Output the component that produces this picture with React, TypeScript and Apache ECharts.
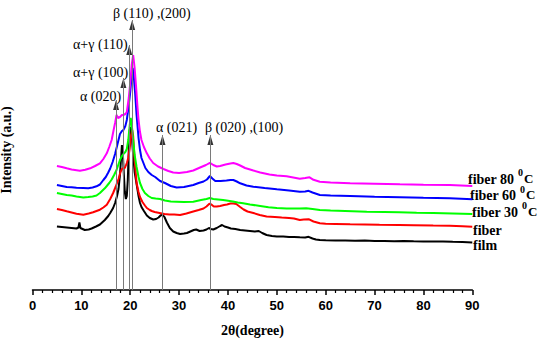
import React, { useEffect, useRef } from "react";
import * as echarts from "echarts";

// [2θ (degree), intensity (a.u.)]
const film: [number, number][] = [
  [5.0, 63.5], [6.0, 63], [7.0, 62.5], [8.0, 62], [9.0, 61.5], [9.4, 62.5], [9.6, 67.5], [9.8, 62],
  [10.7, 60], [11.5, 60.5], [12.1, 61.5], [13.0, 63.5], [13.8, 65.5], [14.8, 70], [15.5, 74], [15.9, 77],
  [16.5, 82], [16.9, 87], [17.3, 94], [17.6, 101], [17.9, 115], [18.1, 130], [18.3, 145], [18.5, 135],
  [18.7, 115], [18.9, 98], [19.1, 91], [19.3, 94], [19.5, 110], [19.7, 140], [19.9, 160], [20.1, 163],
  [20.3, 155], [20.6, 135], [20.9, 118], [21.3, 106], [21.7, 94], [22.0, 87], [22.3, 83], [22.8, 79],
  [23.4, 74.5], [24.0, 72], [24.7, 70.5], [25.3, 71], [25.8, 72.5], [26.2, 74.5], [26.6, 75.5], [27.0, 73],
  [27.5, 67.5], [28.1, 62], [28.8, 58.5], [29.5, 57], [30.2, 56], [31.0, 56.5], [31.6, 57], [32.3, 58.5],
  [33.0, 60], [33.5, 60.5], [34.2, 59], [35.0, 59.5], [35.6, 60.5], [36.1, 62], [36.5, 61], [37.0, 60.5],
  [37.7, 62], [38.4, 64], [38.8, 65], [39.3, 63.5], [40.0, 62.5], [40.6, 61.5], [41.5, 61], [42.5, 60],
  [43.5, 59.5], [44.5, 59], [45.5, 58.5], [46.3, 59], [47.0, 57], [47.9, 55], [49.0, 54], [50.0, 53.5],
  [51.3, 53.5], [52.5, 53], [53.5, 53], [54.7, 52.7], [55.8, 52.5], [56.5, 53.2], [57.3, 51.5], [58.0, 50.5],
  [58.8, 50], [60.0, 49.7], [62.0, 49.5], [64.0, 49.5], [66.0, 49.2], [68.0, 49.5], [70.0, 49], [72.0, 49],
  [74.0, 48.8], [76.0, 49], [78.0, 48.7], [80.0, 48.5], [82.0, 48.5], [84.0, 48.5], [86.0, 48.2], [88.0, 48],
  [90.0, 47.5],
];

const fiber: [number, number][] = [
  [5.0, 81], [6.0, 80], [7.0, 78.7], [8.0, 77.5], [9.0, 76.3], [10.4, 75.3], [11.5, 76.5], [12.4, 77.7],
  [13.8, 80.3], [14.5, 82.5], [15.2, 85.3], [15.9, 91], [16.5, 97], [17.0, 103], [17.6, 111], [18.0, 118],
  [18.3, 121], [18.6, 122], [18.9, 122], [19.3, 127], [19.6, 132], [19.9, 142], [20.2, 155], [20.4, 160],
  [20.6, 154], [20.9, 130], [21.3, 107], [21.7, 98], [22.0, 93], [22.5, 88], [23.0, 84.5], [23.4, 82],
  [24.0, 80], [24.4, 79], [25.0, 78], [26.0, 77], [27.0, 76], [28.0, 75.5], [29.0, 75.5], [30.2, 75],
  [31.5, 76.5], [32.9, 78.5], [34.0, 80], [35.0, 81.5], [35.6, 83.5], [36.2, 86.2], [36.6, 85.5], [37.1, 83.5],
  [37.7, 83.5], [38.4, 84], [39.2, 85], [39.8, 85.5], [40.5, 86.5], [41.1, 86.5], [41.7, 86], [42.5, 83],
  [43.2, 80.5], [44.0, 78.5], [45.2, 77], [46.5, 75], [47.9, 73.5], [49.6, 73], [51.0, 72.5], [52.5, 72],
  [53.5, 71.5], [54.7, 70], [55.5, 70.5], [56.5, 70.8], [57.5, 68.5], [58.8, 66.7], [60.0, 66.2], [62.0, 66],
  [65.0, 65.7], [68.0, 65.5], [71.0, 65.2], [75.0, 65], [78.0, 64.8], [82.0, 64.5], [85.4, 64.3], [88.0, 63.8],
  [90.0, 63.3],
];

const fiber30: [number, number][] = [
  [5.0, 97], [6.0, 96], [7.0, 95], [8.0, 94.5], [9.0, 93.5], [10.4, 92.5], [11.4, 93], [12.3, 93.5],
  [13.1, 94.5], [13.8, 97], [14.8, 101.7], [15.2, 104], [15.7, 107], [16.2, 110.5], [16.7, 115], [17.2, 120],
  [17.9, 130], [18.3, 134], [18.6, 136], [19.0, 138], [19.3, 141], [19.6, 150], [19.9, 165], [20.1, 172],
  [20.3, 166], [20.6, 150], [20.9, 135], [21.3, 123], [21.7, 113], [22.0, 107], [22.5, 101], [23.0, 97],
  [23.7, 94], [24.4, 92], [25.2, 91.5], [26.1, 91], [27.1, 89.5], [28.3, 88.5], [29.5, 88.3], [31.0, 88],
  [32.9, 88.3], [34.5, 90], [35.6, 91], [36.3, 92], [37.0, 91], [38.0, 90.5], [39.0, 90], [39.7, 89.5],
  [41.0, 88.5], [42.0, 87.5], [43.1, 86.7], [44.5, 85.5], [46.6, 84], [48.3, 82.7], [50.0, 82], [52.0, 81.5],
  [54.7, 81.5], [56.0, 81.7], [57.3, 81], [58.8, 80], [61.0, 79.5], [64.0, 79], [68.4, 78.3], [72.0, 78],
  [75.0, 77.7], [78.6, 77.3], [82.0, 77], [86.0, 76.5], [90.0, 76],
];

const fiber60: [number, number][] = [
  [5.0, 105], [6.0, 104], [7.0, 103], [8.0, 102.7], [9.0, 102.3], [10.4, 102], [11.4, 101.7], [12.3, 102.5],
  [13.1, 103.7], [13.8, 105.5], [14.5, 110], [15.0, 113], [15.5, 117.5], [15.9, 121.5], [16.4, 128], [16.9, 136],
  [17.4, 146], [17.9, 156], [18.3, 159], [18.6, 160], [19.0, 164], [19.3, 170], [19.7, 185], [20.0, 198],
  [20.3, 215], [20.5, 222], [20.7, 215], [21.0, 197], [21.3, 175], [21.7, 152], [22.0, 140], [22.3, 132],
  [22.7, 127], [23.1, 122], [23.7, 118], [24.4, 115], [25.1, 113], [26.1, 109], [27.1, 107], [28.3, 104],
  [29.5, 102.5], [31.0, 103], [32.9, 105], [34.0, 107], [35.0, 108.5], [35.7, 110.5], [36.3, 114], [36.8, 111.5],
  [37.4, 109], [38.5, 109], [39.7, 109.5], [40.5, 110], [41.1, 110], [41.8, 108.5], [42.5, 106.7], [43.8, 104.5],
  [45.2, 103.3], [47.5, 102], [50.0, 100.7], [52.5, 99.5], [54.7, 98.2], [55.8, 98.5], [56.5, 99.2], [57.3, 97.5],
  [58.8, 95], [61.0, 94.5], [65.0, 94], [70.0, 93.2], [75.2, 92.7], [80.0, 92.2], [85.4, 91.7], [90.0, 90.7],
];

const fiber80: [number, number][] = [
  [5.0, 124], [6.0, 123], [7.0, 121.7], [8.0, 120.5], [9.7, 119.3], [10.8, 120.2], [11.8, 121.7], [12.8, 124],
  [13.8, 126.7], [14.5, 131], [15.2, 136.7], [15.7, 143], [16.2, 150], [16.6, 160], [16.9, 167], [17.2, 175],
  [17.5, 172], [17.9, 173], [18.3, 175], [18.6, 175], [19.0, 176], [19.3, 178], [19.7, 192], [20.0, 207],
  [20.3, 225], [20.6, 235], [20.9, 222], [21.2, 203], [21.5, 182], [21.7, 170], [22.0, 158], [22.3, 150],
  [22.8, 143], [23.4, 136.7], [24.0, 131.5], [24.7, 127], [25.7, 123.5], [26.8, 121], [27.8, 119], [28.8, 117.5],
  [30.0, 117], [31.6, 118], [32.9, 119.5], [34.3, 122.5], [35.5, 125], [36.3, 127.2], [37.0, 125], [37.7, 123.5],
  [38.4, 124], [39.5, 125.5], [40.5, 126.5], [41.1, 127], [41.8, 126], [42.5, 124.5], [43.5, 122], [45.2, 119.5],
  [46.6, 117.5], [48.5, 115.5], [50.0, 114.5], [52.0, 113.7], [54.7, 111.3], [55.8, 112], [56.7, 112.7], [57.5, 110.2],
  [58.8, 108.3], [61.0, 107.5], [65.0, 106.7], [70.0, 106.2], [75.2, 105.7], [80.0, 105.3], [85.4, 105], [90.0, 104],
];

const seriesNames = ["film", "fiber", "fiber 30", "fiber 60", "fiber 80"];
const seriesColors = ["#000000", "#ff0000", "#00ff00", "#0000ff", "#ff00ff"];

// Peak markers: angle of the line, top (arrow tip) in a.u., label
const peakAngles = [17.1, 18.6, 19.8, 20.4, 26.6, 36.4];
const peakTips = [190, 212, 245, 270, 155, 155];
const peakLabels = ["α (020)", "α+γ (100)", "α+γ (110)", "β (110) ,(200)", "α (021)", "β (020) ,(100)"];

const xTicks = [0, 90, 10];

const SERIF = "Liberation Serif";
const SANS = "Liberation Sans";

export default function App() {
  const ref = useRef<HTMLDivElement>(null);
  useEffect(() => {
    if (!ref.current) return;
    const chart = echarts.init(ref.current, undefined, { renderer: "svg" });
    const curves = [film, fiber, fiber30, fiber60, fiber80];

    const labelPos: [number, number][] = [
      [80, 96], [73, 72], [73, 44], [113, 13], [156, 127], [205, 127],
    ];
    const legendPos = [
      { t: "film", x: 473, y: 245 },
      { t: "fiber", x: 473, y: 230 },
      { t: "fiber 30", x: 472, y: 212, sx: 522, sy: 205, cx: 528, cy: 211 },
      { t: "fiber 60", x: 470, y: 195, sx: 520, sy: 189, cx: 526, cy: 194 },
      { t: "fiber 80", x: 468, y: 179, sx: 518, sy: 172, cx: 524, cy: 178 },
    ];

    const graphic: any[] = [];
    peakLabels.forEach((t, i) => {
      graphic.push({
        type: "text",
        x: labelPos[i][0],
        y: labelPos[i][1],
        style: { text: t, fontFamily: SERIF, fontSize: 14, fill: "#000", align: "left", verticalAlign: "middle" },
      });
    });
    legendPos.forEach((l) => {
      graphic.push({
        type: "text",
        x: l.x,
        y: l.y,
        style: { text: l.t, fontFamily: SERIF, fontWeight: "bold", fontSize: 14, fill: "#000", align: "left", verticalAlign: "middle" },
      });
      if (l.sx) {
        graphic.push({
          type: "text",
          x: l.sx,
          y: l.sy,
          style: { text: "0", fontFamily: SERIF, fontWeight: "bold", fontSize: 10, fill: "#000", align: "left", verticalAlign: "middle" },
        });
        graphic.push({
          type: "text",
          x: l.cx,
          y: l.cy,
          style: { text: "C", fontFamily: SERIF, fontWeight: "bold", fontSize: 13, fill: "#000", align: "left", verticalAlign: "middle" },
        });
      }
    });

    chart.setOption({
      animation: false,
      backgroundColor: "#ffffff",
      grid: { left: 32.5, right: 77.7, top: 10, bottom: 56, containLabel: false, outerBoundsMode: "none" },
      xAxis: {
        type: "value",
        min: xTicks[0],
        max: xTicks[1],
        interval: xTicks[2],
        name: "2θ(degree)",
        nameLocation: "middle",
        nameGap: 33,
        nameTextStyle: { fontFamily: SERIF, fontWeight: "bold", fontSize: 14, color: "#000" },
        axisLine: { show: true, lineStyle: { color: "#000", width: 1.5 } },
        axisTick: { show: true, inside: false, length: 5, lineStyle: { color: "#000", width: 1.5 } },
        minorTick: { show: true, splitNumber: 5, length: 3, lineStyle: { color: "#000", width: 1.2 } },
        axisLabel: { fontFamily: SANS, fontWeight: "bold", fontSize: 13, color: "#000", margin: 9 },
        splitLine: { show: false },
      },
      yAxis: {
        type: "value",
        min: 0,
        max: 280,
        name: "Intensity (a.u.)",
        nameLocation: "middle",
        nameGap: 19,
        nameRotate: 90,
        nameTextStyle: { fontFamily: SERIF, fontWeight: "bold", fontSize: 14, color: "#000" },
        axisLine: { show: false },
        axisTick: { show: false },
        axisLabel: { show: false },
        splitLine: { show: false },
      },
      graphic,
      series: [
        {
          type: "scatter",
          name: "peaks",
          data: peakAngles.map((a, i) => [a, peakTips[i]]),
          symbol: "triangle",
          symbolSize: [6, 10],
          symbolOffset: [0, 5],
          itemStyle: { color: "#000" },
          silent: true,
          z: 1,
          markLine: {
            silent: true,
            symbol: ["none", "none"],
            label: { show: false },
            lineStyle: { color: "#7a7a7a", width: 1, type: "solid" },
            data: peakAngles.map((a, i) => [{ coord: [a, 0] }, { coord: [a, peakTips[i]] }]),
          },
        },
        ...curves.map((d, i) => ({
          type: "line",
          name: seriesNames[i],
          data: d,
          showSymbol: false,
          symbol: "none",
          lineStyle: { color: seriesColors[i], width: 2 },
          itemStyle: { color: seriesColors[i] },
          silent: true,
          z: 2,
        })),
      ],
    });
    return () => chart.dispose();
  }, []);
  return (
    <div
      ref={ref}
      style={{ position: "fixed", left: 0, top: 0, width: 550, height: 346, background: "#fff" }}
    />
  );
}
